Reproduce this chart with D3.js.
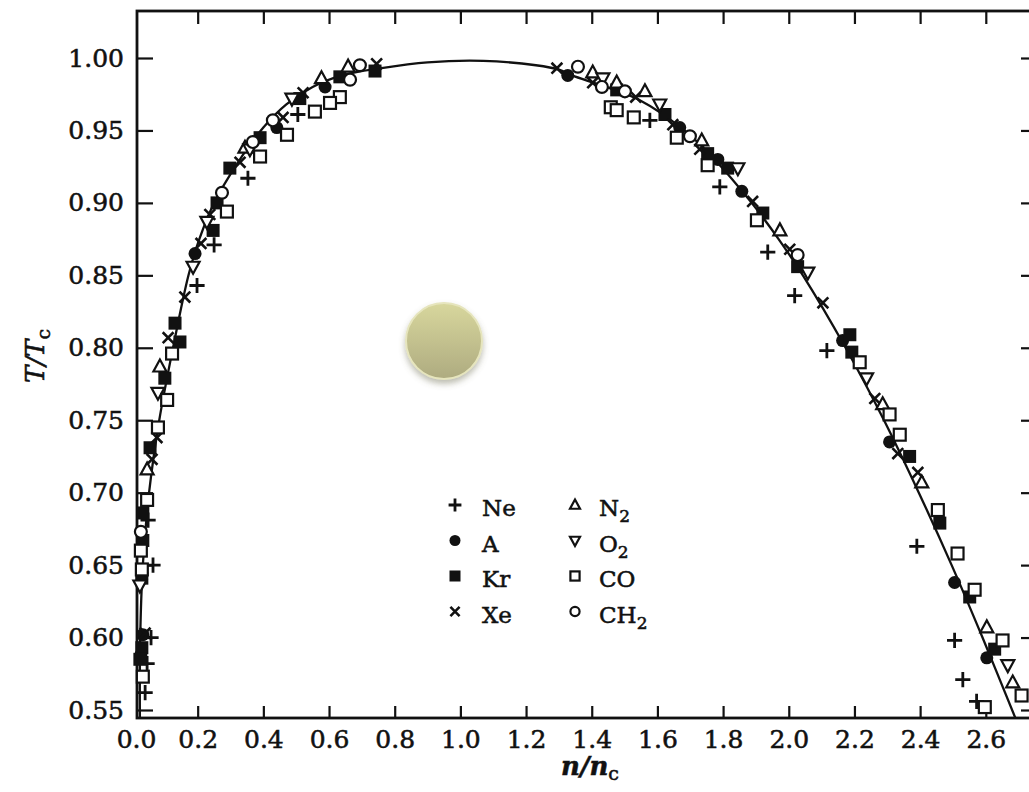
<!DOCTYPE html>
<html>
<head>
<meta charset="utf-8">
<script src="https://cdn.jsdelivr.net/npm/d3@7"></script>
<style>
  html, body { margin: 0; padding: 0; background: #fff; }
  svg { display: block; }
  text { font-family: "DejaVu Serif", "Liberation Serif", serif; fill: #111; stroke: #111; stroke-width: 0.55px; }
</style>
</head>
<body>
<svg id="chart" width="1029" height="792"></svg>
<script>
// tick values
const xTicks = [0.0, 0.2, 0.4, 0.6, 0.8, 1.0, 1.2, 1.4, 1.6, 1.8, 2.0, 2.2, 2.4, 2.6];
const yTicks = [0.55, 0.60, 0.65, 0.70, 0.75, 0.80, 0.85, 0.90, 0.95, 1.00];

// smooth coexistence curve, [n/nc, T/Tc]
const curve = [
  [0.024, 0.545], [0.025, 0.60], [0.033, 0.65], [0.052, 0.70], [0.083, 0.75],
  [0.125, 0.80], [0.172, 0.85], [0.205, 0.875], [0.250, 0.90], [0.320, 0.927],
  [0.400, 0.952], [0.470, 0.968], [0.550, 0.980], [0.640, 0.988], [0.760, 0.993],
  [0.900, 0.997], [1.070, 0.998], [1.230, 0.995], [1.300, 0.992], [1.340, 0.988],
  [1.430, 0.981], [1.545, 0.971], [1.682, 0.950], [1.774, 0.930], [1.887, 0.900],
  [1.969, 0.875], [2.043, 0.850], [2.173, 0.800], [2.290, 0.750], [2.396, 0.700],
  [2.496, 0.650], [2.590, 0.600], [2.690, 0.5445]
];

// measured points, [n/nc, T/Tc]
const neon = [
  [0.505, 0.961], [0.353, 0.917], [0.250, 0.871], [0.198, 0.843], [0.049, 0.681],
  [0.064, 0.650], [0.058, 0.600], [0.046, 0.582], [0.040, 0.562],
  [1.577, 0.957], [1.790, 0.911], [1.936, 0.866], [2.018, 0.836], [2.116, 0.798],
  [2.390, 0.663], [2.505, 0.598], [2.530, 0.571], [2.572, 0.556]
];
const argon = [
  [0.441, 0.952], [0.588, 0.980], [0.192, 0.865], [0.033, 0.602], [0.027, 0.588],
  [1.327, 0.988], [1.668, 0.952], [1.784, 0.930], [1.857, 0.908], [2.164, 0.805],
  [2.307, 0.735], [2.505, 0.638], [2.603, 0.586]
];
const krypton = [
  [0.740, 0.991], [0.633, 0.987], [0.511, 0.972], [0.390, 0.945], [0.298, 0.924],
  [0.259, 0.900], [0.247, 0.881], [0.131, 0.817], [0.146, 0.804], [0.100, 0.779],
  [0.055, 0.731], [0.033, 0.686], [0.033, 0.667], [0.030, 0.641], [0.030, 0.593],
  [0.024, 0.585],
  [1.476, 0.978], [1.623, 0.961], [1.753, 0.934], [1.814, 0.924], [1.921, 0.893],
  [2.027, 0.856], [2.186, 0.809], [2.192, 0.797], [2.368, 0.725], [2.460, 0.679],
  [2.551, 0.628], [2.627, 0.592]
];
const xenon = [
  [0.745, 0.996], [0.521, 0.976], [0.460, 0.959], [0.329, 0.928], [0.237, 0.892],
  [0.210, 0.872], [0.161, 0.835], [0.110, 0.807], [0.076, 0.738], [0.061, 0.723],
  [0.040, 0.603],
  [1.294, 0.993], [1.403, 0.983], [1.534, 0.973], [1.647, 0.954], [1.729, 0.937],
  [1.890, 0.901], [2.003, 0.868], [2.104, 0.831], [2.262, 0.765], [2.332, 0.727],
  [2.393, 0.714]
];
const nitrogen = [
  [0.577, 0.986], [0.658, 0.994], [0.344, 0.938], [0.085, 0.787], [0.046, 0.716],
  [1.403, 0.990], [1.476, 0.983], [1.562, 0.977], [1.735, 0.943], [1.973, 0.881],
  [2.286, 0.761], [2.405, 0.707], [2.603, 0.607], [2.682, 0.569]
];
const oxygen = [
  [0.487, 0.972], [0.359, 0.937], [0.228, 0.887], [0.186, 0.856], [0.079, 0.769],
  [0.024, 0.636],
  [1.434, 0.986], [1.607, 0.968], [1.845, 0.924], [2.058, 0.852], [2.237, 0.779],
  [2.667, 0.581]
];
const carbonMonoxide = [
  [0.633, 0.973], [0.603, 0.969], [0.557, 0.963], [0.472, 0.947], [0.390, 0.932],
  [0.289, 0.894], [0.122, 0.796], [0.107, 0.764], [0.079, 0.745], [0.046, 0.695],
  [0.027, 0.660], [0.030, 0.647], [0.033, 0.573],
  [1.458, 0.966], [1.476, 0.964], [1.528, 0.959], [1.659, 0.945], [1.753, 0.926],
  [1.903, 0.888], [2.216, 0.790], [2.307, 0.754], [2.338, 0.740], [2.454, 0.688],
  [2.514, 0.658], [2.566, 0.633], [2.651, 0.598], [2.709, 0.560], [2.597, 0.552]
];
const methane = [
  [0.694, 0.995], [0.664, 0.985], [0.429, 0.957], [0.368, 0.942], [0.274, 0.907],
  [0.027, 0.673],
  [1.358, 0.994], [1.431, 0.980], [1.501, 0.977], [1.699, 0.946], [2.027, 0.864]
];

const seriesNames = ['Ne', 'A', 'Kr', 'Xe', 'N', 'O', 'CO', 'CH'];
const seriesSubs = ['', '', '', '', '2', '2', '', '2'];
const seriesSymbols = ['plus', 'disc', 'block', 'cross', 'tri', 'itri', 'box', 'ring'];
const seriesData = [neon, argon, krypton, xenon, nitrogen, oxygen, carbonMonoxide, methane];

const svg = d3.select('#chart');
const frame = { left: 137, right: 1031, top: 11, bottom: 718 };

const x = d3.scaleLinear().domain([0, 2.6]).range([132, 985.8]);
const y = d3.scaleLinear().domain([0.55, 1.0]).range([710, 58]);

svg.append('rect').attr('width', 1029).attr('height', 792).attr('fill', '#fff');

const defs = svg.append('defs');
defs.append('clipPath').attr('id', 'plotClip')
  .append('rect')
  .attr('x', frame.left).attr('y', frame.top)
  .attr('width', frame.right - frame.left).attr('height', frame.bottom - frame.top);

// axes (ticks point inward)
const styleAxis = (g, fontSize) => {
  g.select('.domain').remove();
  g.selectAll('.tick line').attr('stroke', '#111').attr('stroke-width', 2.2);
  g.selectAll('.tick text')
    .style('font-size', fontSize + 'px')
    .attr('fill', '#111');
};

svg.append('g')
  .attr('transform', `translate(${frame.left},0)`)
  .call(d3.axisLeft(y).tickValues(yTicks).tickFormat(d3.format('.2f')).tickSize(-16).tickPadding(13))
  .call((g) => styleAxis(g, 25));

const bottomAxis = svg.append('g')
  .attr('transform', `translate(0,${frame.bottom})`)
  .call(d3.axisBottom(x).tickValues(xTicks).tickFormat(d3.format('.1f')).tickSize(-12).tickPadding(12))
  .call((g) => styleAxis(g, 25));
bottomAxis.selectAll('.tick').filter((d) => d === 0).select('line').remove();
bottomAxis.selectAll('.tick').filter((d) => d === 0).select('text').attr('dx', 4);

svg.append('g')
  .attr('transform', `translate(0,${frame.top})`)
  .call(d3.axisTop(x).tickValues(xTicks.filter((d) => d > 0)).tickFormat('').tickSize(-13))
  .call((g) => styleAxis(g, 25));

svg.append('g')
  .attr('transform', `translate(${frame.right},0)`)
  .call(d3.axisRight(y).tickValues(yTicks).tickFormat('').tickSize(-10))
  .call((g) => styleAxis(g, 25));

// frame
svg.append('rect')
  .attr('x', frame.left).attr('y', frame.top)
  .attr('width', frame.right - frame.left).attr('height', frame.bottom - frame.top)
  .attr('fill', 'none').attr('stroke', '#111').attr('stroke-width', 2.8);

// fitted curve
const line = d3.line()
  .x((d) => x(d[0]))
  .y((d) => y(d[1]))
  .curve(d3.curveCatmullRom.alpha(0.5));

svg.append('path')
  .datum(curve)
  .attr('clip-path', 'url(#plotClip)')
  .attr('d', line)
  .attr('fill', 'none')
  .attr('stroke', '#111')
  .attr('stroke-width', 2.3);

// marker drawing
const drawSymbol = (g, type, cx, cy, s) => {
  const k = s / 12;
  const sw = 2.2;
  switch (type) {
    case 'plus':
      g.append('path')
        .attr('d', `M${cx - 7 * k},${cy}H${cx + 7 * k}M${cx},${cy - 7 * k}V${cy + 7 * k}`)
        .attr('stroke', '#111').attr('stroke-width', 2.8).attr('fill', 'none');
      break;
    case 'cross':
      g.append('path')
        .attr('d', `M${cx - 5 * k},${cy - 5 * k}L${cx + 5 * k},${cy + 5 * k}M${cx + 5 * k},${cy - 5 * k}L${cx - 5 * k},${cy + 5 * k}`)
        .attr('stroke', '#111').attr('stroke-width', 2.6).attr('fill', 'none');
      break;
    case 'disc':
      g.append('circle').attr('cx', cx).attr('cy', cy).attr('r', 6 * k).attr('fill', '#111');
      break;
    case 'block':
      g.append('rect').attr('x', cx - 6 * k).attr('y', cy - 6 * k)
        .attr('width', 12 * k).attr('height', 12 * k).attr('fill', '#111');
      break;
    case 'ring':
      g.append('circle').attr('cx', cx).attr('cy', cy).attr('r', 5.5 * k)
        .attr('fill', '#fff').attr('stroke', '#111').attr('stroke-width', sw);
      break;
    case 'box':
      g.append('rect').attr('x', cx - 5.5 * k).attr('y', cy - 5.5 * k)
        .attr('width', 11 * k).attr('height', 11 * k)
        .attr('fill', '#fff').attr('stroke', '#111').attr('stroke-width', sw);
      break;
    case 'tri':
      g.append('path')
        .attr('d', `M${cx},${cy - 6.5 * k}L${cx + 6 * k},${cy + 4.5 * k}H${cx - 6 * k}Z`)
        .attr('fill', '#fff').attr('stroke', '#111').attr('stroke-width', sw);
      break;
    case 'itri':
      g.append('path')
        .attr('d', `M${cx},${cy + 6.5 * k}L${cx + 6 * k},${cy - 4.5 * k}H${cx - 6 * k}Z`)
        .attr('fill', '#fff').attr('stroke', '#111').attr('stroke-width', sw);
      break;
  }
};

const markers = svg.append('g').attr('class', 'markers');
seriesData.forEach((pts, i) => {
  const g = markers.append('g').attr('class', `series-${seriesNames[i]}`);
  pts.forEach((d) => drawSymbol(g, seriesSymbols[i], x(d[0]), y(d[1]), 13));
});

// legend
const legend = svg.append('g').attr('class', 'legend');
seriesNames.forEach((name, i) => {
  const col = Math.floor(i / 4);
  const row = i % 4;
  const sx = col === 0 ? 455 : 575;
  const tx = col === 0 ? 482 : 599;
  const cy = 505 + row * 35.5;
  drawSymbol(legend, seriesSymbols[i], sx, cy, col === 0 ? 11 : 10);
  const t = legend.append('text')
    .attr('x', tx).attr('y', cy + 11)
    .style('font-size', '23px');
  t.append('tspan').text(name);
  if (seriesSubs[i]) {
    t.append('tspan').attr('dy', 6).style('font-size', '17px').text(seriesSubs[i]);
  }
});

// axis titles
const yTitle = svg.append('text')
  .attr('transform', 'translate(44,356) rotate(-90)')
  .attr('text-anchor', 'middle')
  .style('font-size', '26px');
yTitle.append('tspan').style('font-style', 'italic').text('T/T');
yTitle.append('tspan').attr('dy', 6).style('font-size', '19px').text('c');

const xTitle = svg.append('text')
  .attr('x', 590).attr('y', 775)
  .attr('text-anchor', 'middle')
  .style('font-size', '26px');
xTitle.append('tspan').style('font-style', 'italic').style('font-weight', 'bold').text('n/n');
xTitle.append('tspan').attr('dy', 5).style('font-size', '19px').text('c');

// decorative disc
const grad = defs.append('linearGradient').attr('id', 'discFill')
  .attr('x1', 0).attr('y1', 0).attr('x2', 0).attr('y2', 1);
grad.append('stop').attr('offset', '0%').attr('stop-color', '#d8d79d');
grad.append('stop').attr('offset', '100%').attr('stop-color', '#aeab80');

const shadow = defs.append('filter').attr('id', 'discShadow')
  .attr('x', '-30%').attr('y', '-30%').attr('width', '160%').attr('height', '170%');
shadow.append('feDropShadow')
  .attr('dx', 0).attr('dy', 4).attr('stdDeviation', 3)
  .attr('flood-color', '#6b6b50').attr('flood-opacity', 0.45);

svg.append('circle')
  .attr('cx', 444).attr('cy', 341).attr('r', 38)
  .attr('fill', 'url(#discFill)')
  .attr('stroke', '#e6e5bd').attr('stroke-width', 2)
  .attr('filter', 'url(#discShadow)');
</script>
</body>
</html>
